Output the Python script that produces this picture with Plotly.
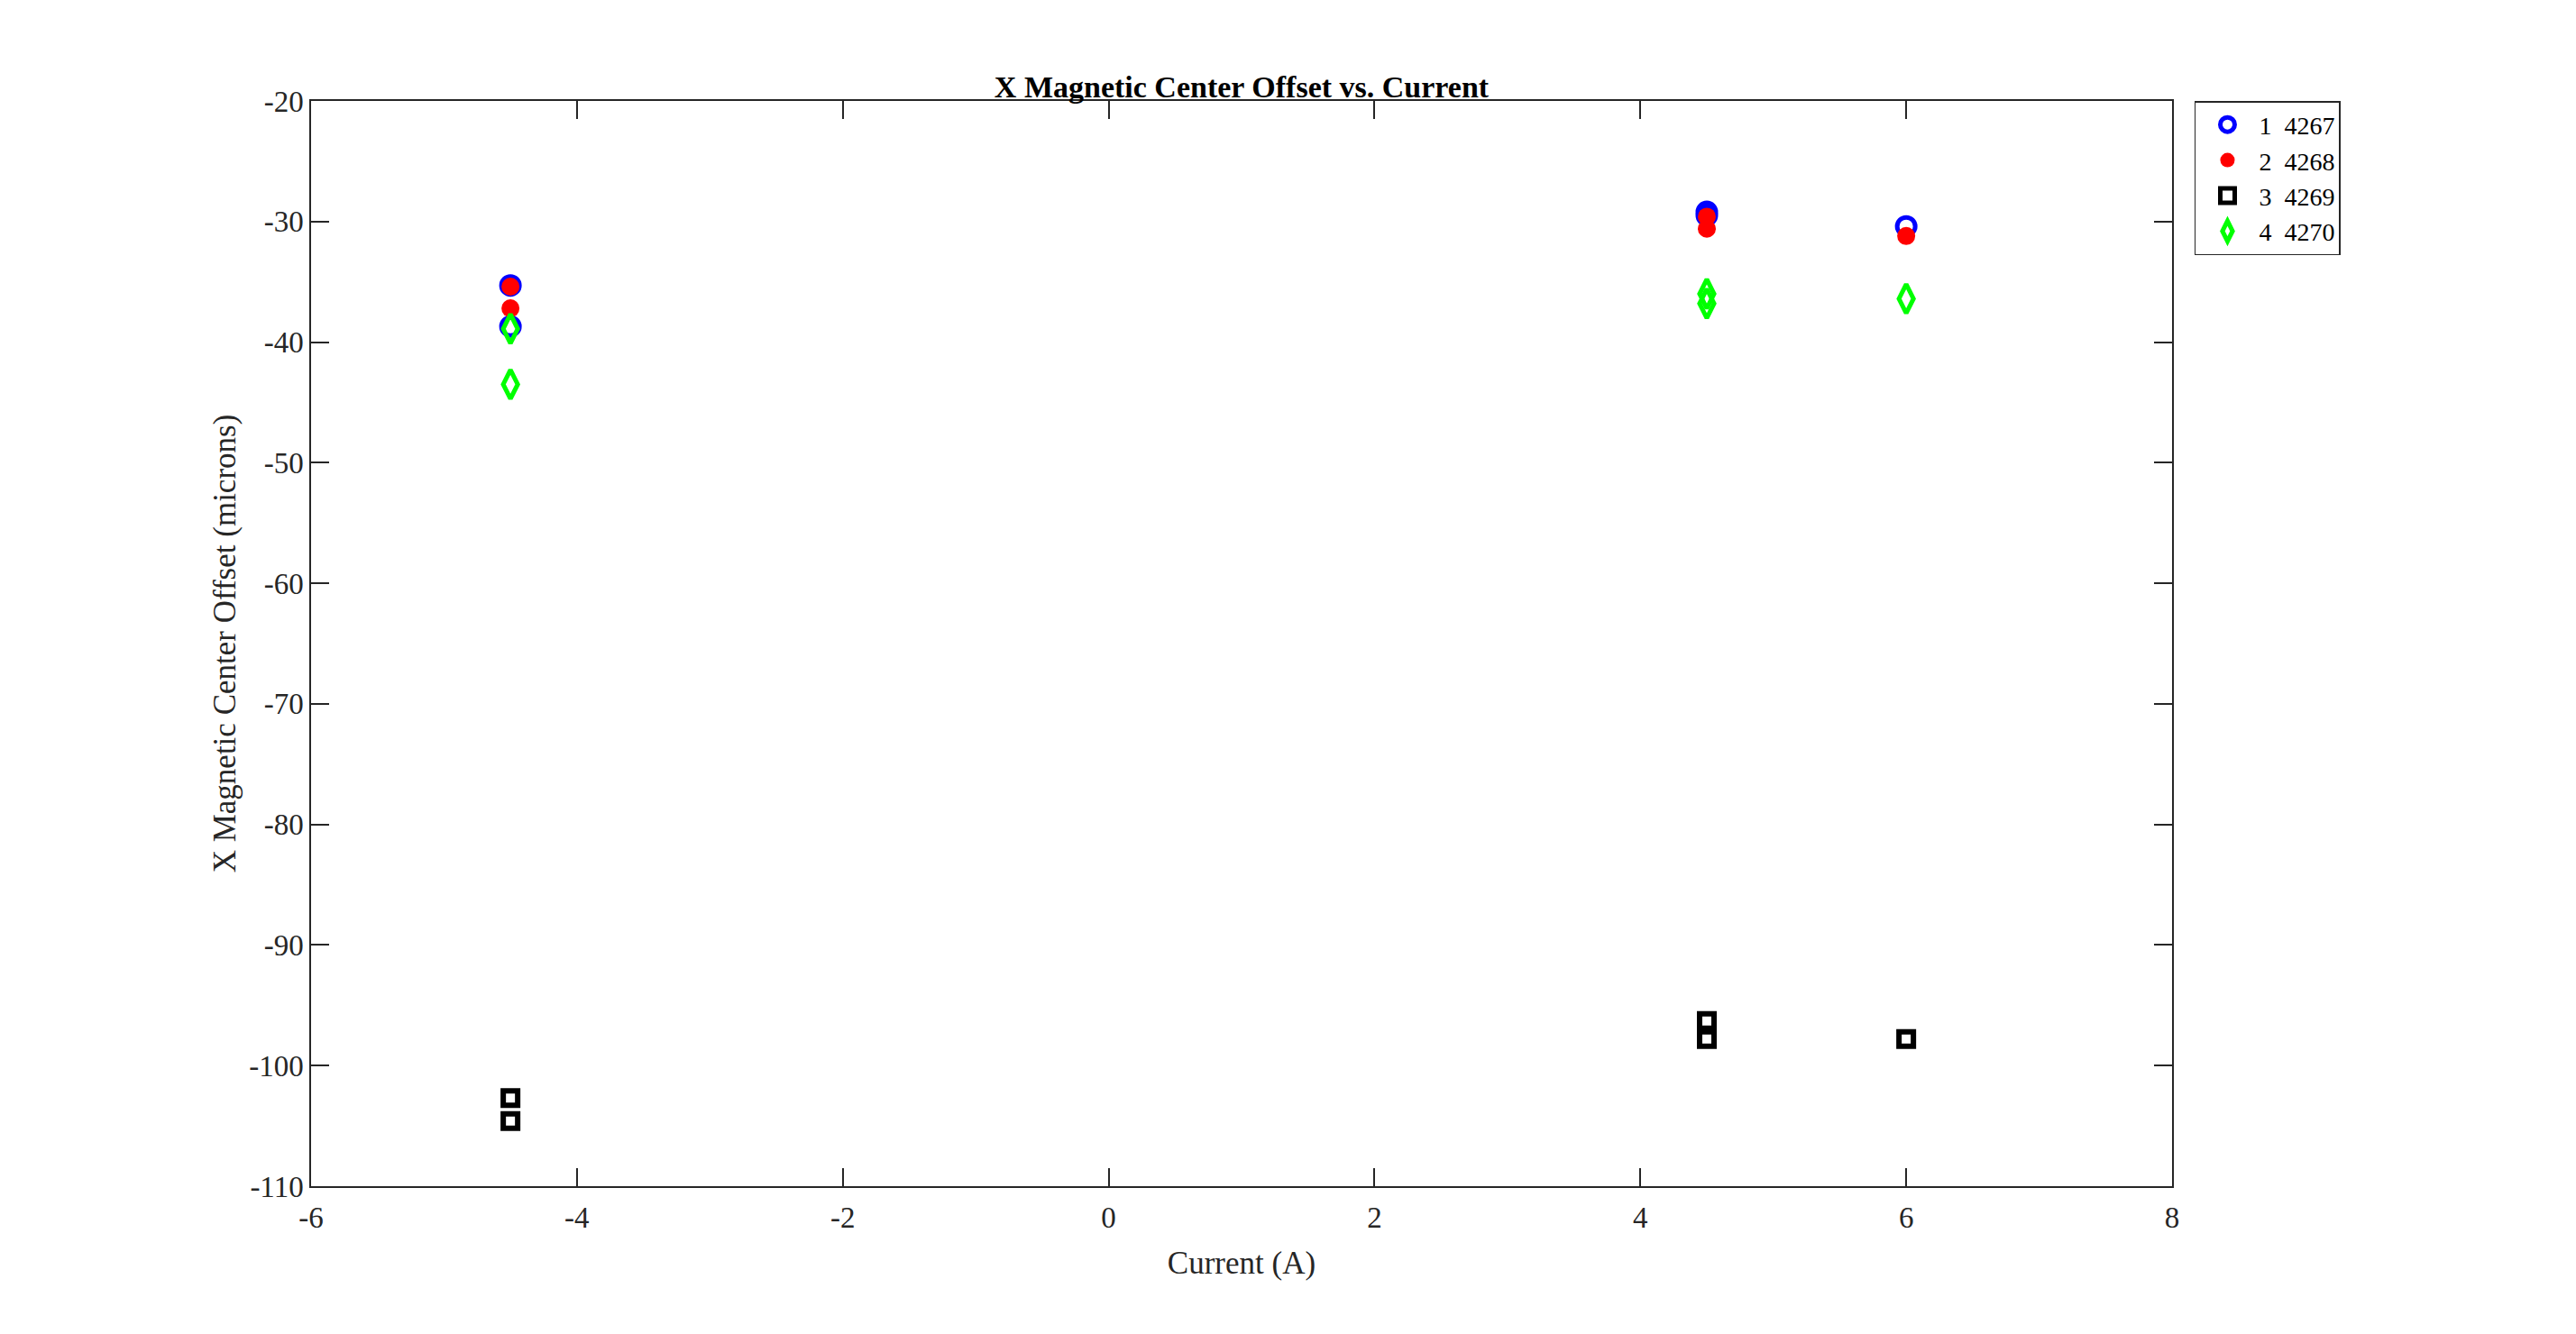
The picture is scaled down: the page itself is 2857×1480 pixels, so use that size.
import plotly.graph_objects as go

# ---- data ----
x1 = [-4.5, -4.5, 4.5, 4.5, 6]
y1 = [-35.3, -38.7, -29.2, -29.5, -30.4]
x2 = [-4.5, -4.5, 4.5, 4.5, 6]
y2 = [-35.4, -37.2, -29.6, -30.6, -31.2]
x3 = [-4.5, -4.5, 4.5, 4.5, 6]
y3 = [-102.7, -104.6, -96.3, -97.8, -97.8]
x4 = [-4.5, -4.5, 4.5, 4.5, 6]
y4 = [-38.9, -43.5, -36.0, -36.8, -36.4]
names = ["1\u00a0\u00a04267", "2\u00a0\u00a04268", "3\u00a0\u00a04269", "4\u00a0\u00a04270"]

x_ticks = [-6, -4, -2, 0, 2, 4, 6, 8]
y_ticks = [-20, -30, -40, -50, -60, -70, -80, -90, -100, -110]

FONT = "Liberation Serif, Times New Roman, serif"
AXC = "#262626"

fig = go.Figure()
fig.add_trace(go.Scatter(x=x1, y=y1, mode="markers", name=names[0],
                         marker=dict(symbol="circle-open", size=20, color="#0000ff",
                                     line=dict(width=5, color="#0000ff"))))
fig.add_trace(go.Scatter(x=x2, y=y2, mode="markers", name=names[1],
                         marker=dict(symbol="circle", size=20, color="#ff0000",
                                     line=dict(width=0))))
fig.add_trace(go.Scatter(x=x3, y=y3, mode="markers", name=names[2],
                         marker=dict(symbol="square-open", size=16, color="#000000",
                                     line=dict(width=6, color="#000000"))))
fig.add_trace(go.Scatter(x=x4, y=y4, mode="markers", name=names[3],
                         marker=dict(symbol="diamond-tall-open", size=23, color="#00ff00",
                                     line=dict(width=5, color="#00ff00"))))

axis_common = dict(
    showgrid=False, zeroline=False, showline=True, linecolor=AXC, linewidth=1.5,
    mirror="ticks", ticks="inside", ticklen=20, tickwidth=1.5, tickcolor=AXC,
    tickfont=dict(family=FONT, size=33, color=AXC),
)

fig.update_layout(
    width=2857, height=1480,
    margin=dict(l=337, r=456, t=104, b=172, autoexpand=False),
    paper_bgcolor="white", plot_bgcolor="white",
    font=dict(family=FONT, color=AXC),
    title=dict(text="<b>X Magnetic Center Offset vs. Current</b>",
               font=dict(family=FONT, size=34, color="#000000"),
               x=0.5, xref="paper", xanchor="center",
               y=1 - 88 / 1480, yref="container", yanchor="middle"),
    xaxis=dict(range=[-6, 8], tickvals=x_ticks, ticktext=[str(v) for v in x_ticks],
               ticklabelstandoff=5,
               title=dict(text="Current (A)", font=dict(family=FONT, size=35, color=AXC), standoff=20),
               **axis_common),
    yaxis=dict(range=[-110, -20], tickvals=y_ticks, ticktext=[str(v) for v in y_ticks],
               title=dict(text="X Magnetic Center Offset (microns)",
                          font=dict(family=FONT, size=35, color=AXC), standoff=4),
               **axis_common),
    legend=dict(x=1.0121, y=1.0, xanchor="left", yanchor="top",
                bgcolor="white", bordercolor=AXC, borderwidth=1.5,
                font=dict(family=FONT, size=28, color="#000000"),
                itemwidth=60, tracegroupgap=0),
    showlegend=True,
)

fig.write_html("out.html")
